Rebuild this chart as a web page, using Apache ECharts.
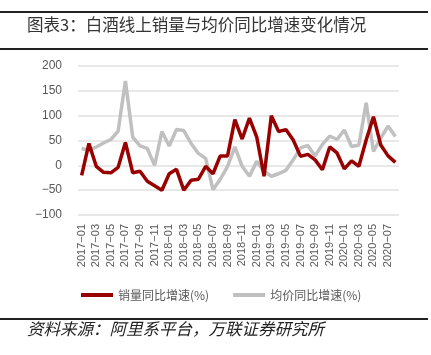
<!DOCTYPE html>
<html><head><meta charset="utf-8">
<script src="https://cdn.jsdelivr.net/npm/echarts@6/dist/echarts.min.js"></script>
<style>html,body{margin:0;padding:0;background:#fff}#c{width:431px;height:355px}</style>
</head><body><div id="c"></div>
<script>
const months = [];
for (let y = 2017; y <= 2020; y++) for (let m = 1; m <= 12; m++) { if (y === 2020 && m > 8) break; months.push(y + '-' + String(m).padStart(2, '0')); }
const volumeYoY = [-20,44,-2,-14,-15,-4,46,-15,-12,-32,-41,-50,-17,-8,-50,-30,-28,-2,-17,19,19,92,53,95,57,-22,100,68,72,51,18,22,11,-9,37,25,-7,9,-2,51,98,41,19,6];
const priceYoY = [34,30,37,45,52,69,170,57,39,34,0,68,39,72,70,44,24,14,-49,-28,-2,37,-2,-22,8,-12,-22,-17,-10,11,35,40,19,42,59,52,71,38,41,126,28,55,79,58];
const yTicks = {min:-100, max:200, interval:50};
const seriesNames = ['销量同比增速(%)','均价同比增速(%)'];
const titleText = '图表3：白酒线上销量与均价同比增速变化情况';
const sourceText = '资料来源：阿里系平台，万联证券研究所';

const chart = echarts.init(document.getElementById('c'));
chart.setOption({
  animation:false,
  textStyle:{fontFamily:'Liberation Sans, Arial, sans-serif'},
  grid:{left:78,right:32,top:66,bottom:140},
  legend:{
    top:284, left:76, itemWidth:32, itemHeight:4, itemGap:24,
    icon:'rect',
    textStyle:{fontFamily:'Noto Sans CJK SC', fontSize:12, color:'#595959'},
    data:seriesNames
  },
  xAxis:{
    type:'category', data:months, boundaryGap:true,
    axisLine:{show:false}, axisTick:{show:false},
    axisLabel:{rotate:90, interval:1, fontSize:11, color:'#595959', margin:9, formatter:v => v.replace('-', '\u2212')}
  },
  yAxis:{
    type:'value', min:yTicks.min, max:yTicks.max, interval:yTicks.interval,
    axisLabel:{fontSize:12, color:'#595959', margin:16, formatter:v => v < 0 ? '\u2212' + Math.abs(v) : v},
    splitLine:{lineStyle:{color:'#e0e0e0', width:1.5}}
  },
  series:[
    {name:seriesNames[0], type:'line', data:volumeYoY, showSymbol:false, lineStyle:{width:3.5, color:'#990000'}, itemStyle:{color:'#990000'}, z:3},
    {name:seriesNames[1], type:'line', data:priceYoY, showSymbol:false, lineStyle:{width:3.5, color:'#c0c0c0'}, itemStyle:{color:'#c0c0c0'}, z:2}
  ],
  graphic:[
    {type:'rect', shape:{x:0,y:11,width:428,height:2}, style:{fill:'#222'}},
    {type:'text', left:27, top:16, style:{text:titleText, font:'16.5px "Noto Sans CJK SC"', fill:'#333'}},
    {type:'rect', shape:{x:0,y:48,width:428,height:2}, style:{fill:'#222'}},
    {type:'rect', shape:{x:0,y:318,width:428,height:2}, style:{fill:'#222'}},
    {type:'text', left:27, top:320, style:{text:sourceText, font:'italic 16.5px "Noto Sans CJK SC"', fill:'#222'}}
  ]
});
</script></body></html>
